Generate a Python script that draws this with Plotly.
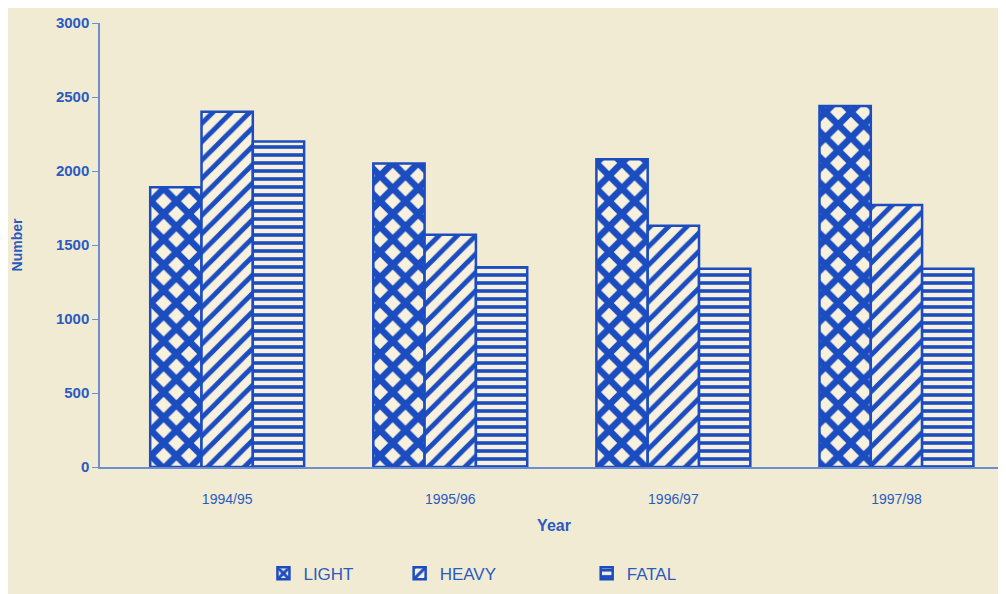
import plotly.graph_objects as go

years = ["1994/95", "1995/96", "1996/97", "1997/98"]
light = [1890, 2050, 2080, 2440]
heavy = [2400, 1570, 1630, 1770]
fatal = [2200, 1350, 1340, 1340]
series_names = ["LIGHT", "HEAVY", "FATAL"]
y_ticks = [0, 500, 1000, 1500, 2000, 2500, 3000]

BLUE = "#1b4cc0"
TXT = "#2a5bbf"
BG = "#f2ebd4"
BARBG = "#f7f1de"

patterns = [
    dict(shape="x", fgcolor=BLUE, bgcolor=BARBG, fgopacity=1, size=18, solidity=0.6, fillmode="overlay"),
    dict(shape="/", fgcolor=BLUE, bgcolor=BARBG, fgopacity=1, size=13, solidity=0.38, fillmode="overlay"),
    dict(shape="-", fgcolor=BLUE, bgcolor=BARBG, fgopacity=1, size=8, solidity=0.45, fillmode="overlay"),
]
legend_ids = ["legend", "legend2", "legend3"]
legend_x = [0.180, 0.330, 0.536]

fig = go.Figure()
for name, vals, pat, lid in zip(series_names, [light, heavy, fatal], patterns, legend_ids):
    fig.add_trace(go.Bar(
        x=years, y=vals, name=name, legend=lid,
        marker=dict(color=BARBG, pattern=pat, line=dict(color=BLUE, width=2.5)),
    ))

font = dict(family="Liberation Sans, Arial, sans-serif", color=TXT, size=14)
legend_style = dict(orientation="h", y=-0.2, yanchor="top", xanchor="left",
                    font=dict(size=17, color=TXT), itemwidth=30,
                    bgcolor="rgba(0,0,0,0)")
fig.update_layout(
    width=1006, height=594,
    paper_bgcolor=BG, plot_bgcolor=BG,
    margin=dict(l=92, r=6, t=12, b=135),
    barmode="group", bargap=0.31, bargroupgap=0,
    font=font,
    showlegend=True,
    legend=dict(legend_style, x=legend_x[0]),
    legend2=dict(legend_style, x=legend_x[1]),
    legend3=dict(legend_style, x=legend_x[2]),
    xaxis=dict(range=[-0.57, 3.5], showline=True, linecolor="#6d8fce", linewidth=1.5,
               ticks="", tickvals=years, ticktext=years,
               tickfont=dict(size=14, color=TXT), ticklabelstandoff=18,
               title=dict(text="<b>Year</b>", font=dict(size=16, color=TXT), standoff=14),
               showgrid=False, zeroline=False),
    yaxis=dict(range=[0, 3000], tickvals=y_ticks, ticktext=[f"<b>{v}</b>" for v in y_ticks],
               showline=True, linecolor="#6d8fce",
               linewidth=1.5, ticks="outside", ticklen=6, tickcolor="#6d8fce",
               tickfont=dict(size=15, color=TXT), showgrid=False, zeroline=False,
               title=dict(text="<b>Number</b>", font=dict(size=14, color=TXT), standoff=30)),
)

fig.write_html("out.html")
